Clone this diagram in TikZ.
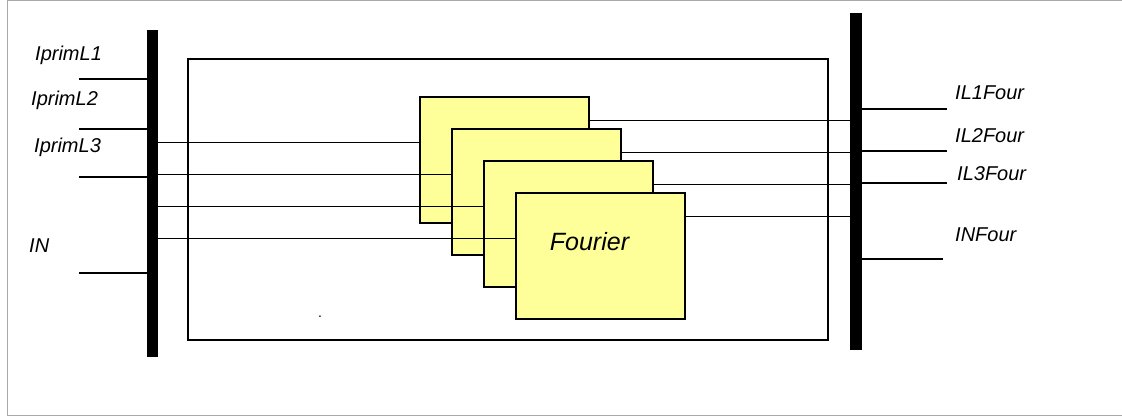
\documentclass[tikz,border=0pt]{standalone}
\usepackage{fontspec}
\setmainfont{Liberation Sans}
\usetikzlibrary{positioning}
\definecolor{FourierYellow}{RGB}{255,255,153}
\definecolor{FrameGray}{RGB}{168,168,168}
\tikzset{
  busbar/.style={draw=none,fill=black,inner sep=0pt,outer sep=0pt},
  blockframe/.style={draw=black,line width=1.3pt,inner sep=0pt,minimum width=640pt,minimum height=281pt},
  fourierbox/.style={draw=black,fill=FourierYellow,line width=1.6pt,inner sep=0pt,minimum width=169pt,minimum height=126pt},
  sigline/.style={line width=1.2pt,draw=black},
  siglabel/.style={font=\fontsize{20}{24}\selectfont\itshape,inner sep=0pt,anchor=west},
  boxlabel/.style={font=\fontsize{25}{30}\selectfont\itshape,inner sep=0pt}
}

\begin{document}
\begin{tikzpicture}[x=1pt,y=-1pt]
\useasboundingbox (0,0) rectangle (1122,416);
\draw[FrameGray,line width=1pt] (1122,0.5) -- (7,0.5) -- (7,415.5) -- (1122,415.5);
\node[blockframe] (blk) at (508,199.5) {};
\node[busbar, minimum width=11pt, minimum height=327pt] (lbus) at (152.5,193.5) {};
\node[busbar, minimum width=12pt, minimum height=337pt] (rbus) at (856,181.5) {};
\node[fourierbox] (b1) at (504.5,160) {};
\node[fourierbox] (b2) at (536.5,192) {};
\node[fourierbox] (b3) at (568.5,224) {};
\node[fourierbox] (b4) at (600.5,256) {};
\node[boxlabel] (ft) at ([xshift=-11pt,yshift=14pt]b4.center) {Fourier};
\foreach \k in {1,...,4} {
  \coordinate (in\k) at ([yshift=-46pt]b\k.north west);
  \coordinate (out\k) at ([yshift=-24pt]b\k.north east);
  \draw[sigline] (lbus.east |- in\k) -- (in\k);
  \draw[sigline] (out\k) -- (rbus.west |- out\k);
}
\coordinate (p1) at (79,79);
\coordinate (p2) at (79,129);
\coordinate (p3) at (79,177);
\coordinate (p4) at (79,273);
\coordinate (q1) at (947,109);
\coordinate (q2) at (947,151);
\coordinate (q3) at (947,183);
\coordinate (q4) at (943,259);
\foreach \k in {1,...,4} {
  \draw[sigline] (p\k) -- (lbus.west |- p\k);
  \draw[sigline] (rbus.east |- q\k) -- (q\k);
}
\node[siglabel] (lp1) at (35,55) {IprimL1};
\node[siglabel] (lp2) at (31,100) {IprimL2};
\node[siglabel] (lp3) at (34,147) {IprimL3};
\node[siglabel] (lp4) at (29,246) {IN};
\node[siglabel] (lq1) at (955,93) {IL1Four};
\node[siglabel] (lq2) at (955,136) {IL2Four};
\node[siglabel] (lq3) at (957,174) {IL3Four};
\node[siglabel] (lq4) at (955,235) {INFour};
\node[font=\fontsize{14}{16}\selectfont,inner sep=0pt] (dot) at (320,317) {.};
\end{tikzpicture}
\end{document}
